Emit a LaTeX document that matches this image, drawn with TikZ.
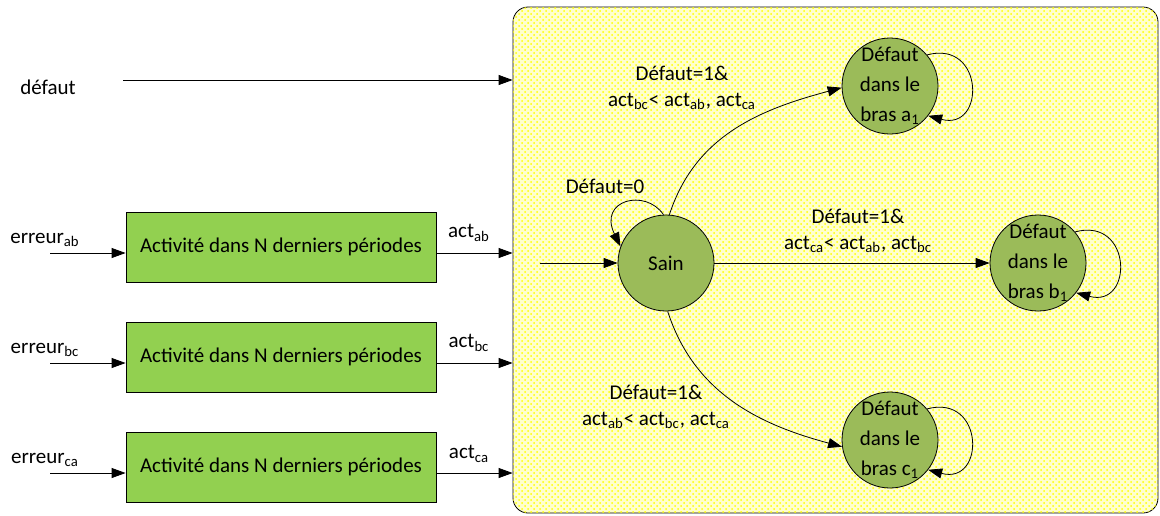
\documentclass[tikz,border=0pt]{standalone}
\usepackage{fontspec}
\setmainfont{Carlito}
\usetikzlibrary{arrows.meta,patterns}
\definecolor{boxgreen}{RGB}{146,208,80}
\definecolor{stategreen}{RGB}{155,187,89}
\definecolor{paleyellow}{RGB}{255,255,205}
\begin{document}
\begin{tikzpicture}[x=0.5pt,y=0.5pt,
  font=\fontsize{10.5}{12.6}\selectfont,
  >={Triangle[length=7pt,width=5pt]},
  cadre/.style={draw,rounded corners=7.5pt,fill=paleyellow,
    postaction={pattern=crosshatch dots,pattern color=yellow},
    minimum width=322.5pt,minimum height=253pt},
  bloc/.style={draw,fill=boxgreen,minimum width=155pt,minimum height=35pt},
  etat/.style={draw,circle,fill=stategreen,minimum size=48pt,inner sep=-2pt,
    align=center,font=\fontsize{10.5}{15}\selectfont}]
  \useasboundingbox (0,0) rectangle (1160,-515);
  \node[cadre] (cadre) at (835.5,-260) {};

  \node (defaut) at (48,-87) {défaut};
  \coordinate (d0) at (123,-80);
  \draw[->] (d0) -- (d0 -| cadre.west);

  \node[bloc] (ab) at (281,-247) {Activité dans N derniers périodes};
  \node[bloc] (bc) at (281,-357) {Activité dans N derniers périodes};
  \node[bloc] (ca) at (281,-467) {Activité dans N derniers périodes};
  \node (eab) at (45,-240) {erreur\textsubscript{ab}};
  \node (ebc) at (45,-350) {erreur\textsubscript{bc}};
  \node (eca) at (45,-460) {erreur\textsubscript{ca}};
  \node (aab) at (469,-233) {act\textsubscript{ab}};
  \node (abc) at (469,-343) {act\textsubscript{bc}};
  \node (aca) at (469,-454) {act\textsubscript{ca}};
  \coordinate (iab) at (50,-253);
  \coordinate (ibc) at (50,-363);
  \coordinate (ica) at (50,-473);
  \draw[->] (iab) -- (iab -| ab.west);
  \draw[->] (ibc) -- (ibc -| bc.west);
  \draw[->] (ica) -- (ica -| ca.west);
  \draw[->] ([yshift=-3pt]ab.east) -- ([yshift=-3pt]ab.east -| cadre.west);
  \draw[->] ([yshift=-3pt]bc.east) -- ([yshift=-3pt]bc.east -| cadre.west);
  \draw[->] ([yshift=-3pt]ca.east) -- ([yshift=-3pt]ca.east -| cadre.west);

  \node[etat] (sain) at (666,-263) {Sain};
  \node[etat] (a1) at (890,-86) {Défaut\\dans le\\bras a\textsubscript{1}};
  \node[etat] (b1) at (1038,-263) {Défaut\\dans le\\bras b\textsubscript{1}};
  \node[etat] (c1) at (890,-440) {Défaut\\dans le\\bras c\textsubscript{1}};

  \coordinate (s0) at (540,-263);
  \draw[->] (s0) -- (sain.west);
  \draw[->] (sain.93) .. controls +(124:32) and +(116:52) .. (sain.160);
  \node (l0) at (605,-186) {Défaut=0};

  \draw[->] (sain.86) to[out=72,in=195] (a1.182);
  \draw[->] (sain) -- (b1);
  \draw[->] (sain.-88) to[out=-72,in=165] (c1.188);
  \node[align=center] (la) at (682,-88) {Défaut=1\&\\act\textsubscript{bc}< act\textsubscript{ab}, act\textsubscript{ca}};
  \node[align=center] (lb) at (858,-231) {Défaut=1\&\\act\textsubscript{ca}< act\textsubscript{ab}, act\textsubscript{bc}};
  \node[align=center] (lc) at (656,-407) {Défaut=1\&\\act\textsubscript{ab}< act\textsubscript{bc}, act\textsubscript{ca}};

  \draw[->] (a1.40) to[out=15,in=-15,looseness=2.5] (a1.-38);
  \draw[->] (b1.40) to[out=15,in=-15,looseness=2.5] (b1.-38);
  \draw[->] (c1.40) to[out=15,in=-15,looseness=2.5] (c1.-38);
\end{tikzpicture}
\end{document}
